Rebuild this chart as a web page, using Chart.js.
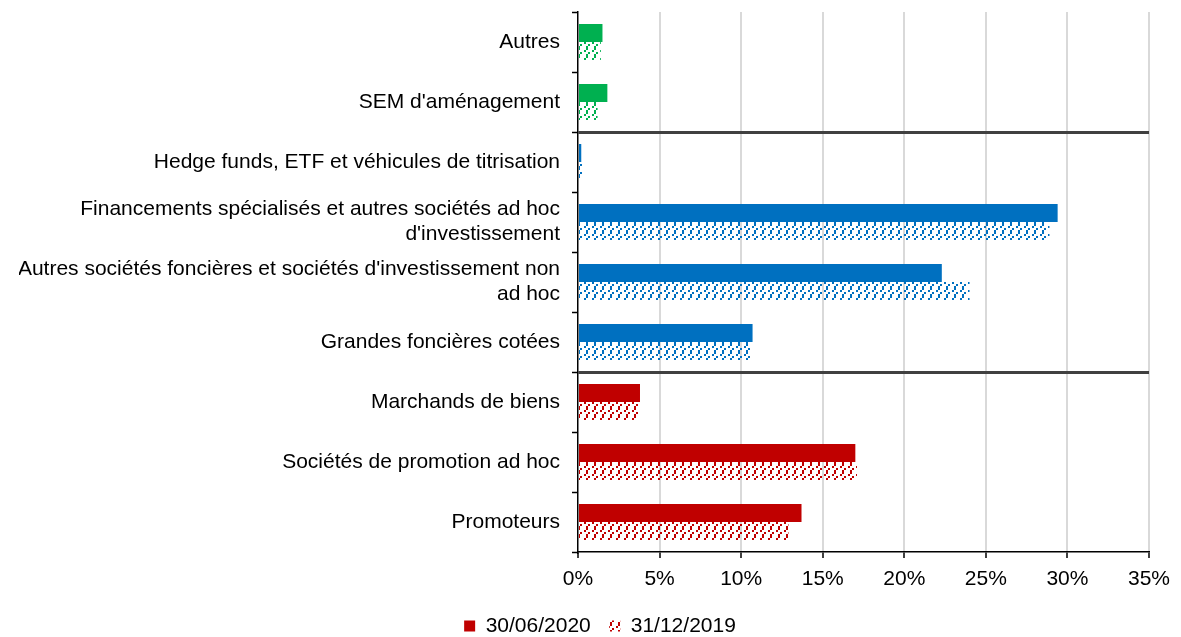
<!DOCTYPE html>
<html lang="fr">
<head>
<meta charset="utf-8">
<title>Répartition par type de contrepartie</title>
<script src="https://cdn.jsdelivr.net/npm/chart.js@4.4.1/dist/chart.umd.min.js"></script>
<style>
    html, body { margin: 0; padding: 0; background: #fff; }
    #zone { width: 1181px; height: 637px; }
</style>
</head>
<body>
<div id="zone"><canvas id="graphique"></canvas></div>
<script>
const categories = [
    'Autres',
    "SEM d'aménagement",
    'Hedge funds, ETF et véhicules de titrisation',
    ['Financements spécialisés et autres sociétés ad hoc', "d'investissement"],
    ["Autres sociétés foncières et sociétés d'investissement non", 'ad hoc'],
    'Grandes foncières cotées',
    'Marchands de biens',
    'Sociétés de promotion ad hoc',
    'Promoteurs'
];
const series = ['30/06/2020', '31/12/2019'];
const valeurs2020 = [1.5, 1.8, 0.2, 29.4, 22.3, 10.7, 3.8, 17.0, 13.7];
const valeurs2019 = [1.4, 1.2, 0.25, 28.9, 24.0, 10.6, 3.7, 17.1, 12.9];
const ticksX = [0, 5, 10, 15, 20, 25, 30, 35];
// indice de la premiere categorie de chaque nouveau groupe
const separations = [2, 6];

const VERT = '#00b050';
const BLEU = '#0070c0';
const ROUGE = '#c00000';
const couleurs = [VERT, VERT, BLEU, BLEU, BLEU, BLEU, ROUGE, ROUGE, ROUGE];

const POLICE = "'Liberation Sans', Arial, sans-serif";

// petits tirets en diagonale montante, decales d'une rangee a l'autre
function creerMotif(couleur) {
    const tuile = document.createElement('canvas');
    tuile.width = 8;
    tuile.height = 8;
    const c = tuile.getContext('2d');
    c.fillStyle = couleur;
    c.fillRect(0, 2, 2, 2);
    c.fillRect(2, 0, 2, 2);
    c.fillRect(2, 6, 2, 2);
    c.fillRect(4, 4, 2, 2);
    return c.createPattern(tuile, 'repeat');
}

const motifs = couleurs.map((couleur) => creerMotif(couleur));

const ctx = document.getElementById('graphique');

new Chart(ctx, {
    type: 'bar',
    data: {
        labels: categories,
        datasets: [
            {
                label: series[0],
                data: valeurs2020,
                backgroundColor: couleurs,
                borderWidth: 0,
                categoryPercentage: 0.6,
                barPercentage: 1
            },
            {
                label: series[1],
                data: valeurs2019,
                backgroundColor: motifs,
                borderWidth: 0,
                categoryPercentage: 0.6,
                barPercentage: 1
            }
        ]
    },
    options: {
        indexAxis: 'y',
        responsive: true,
        maintainAspectRatio: false,
        animation: false,
        layout: {
            padding: { top: 12, right: 0, left: 19, bottom: -9.5 }
        },
        plugins: {
            tooltip: { enabled: false },
            legend: {
                position: 'bottom',
                labels: {
                    boxWidth: 11,
                    boxHeight: 11,
                    padding: 18.5,
                    color: '#000',
                    font: { family: POLICE, size: 21 },
                    generateLabels: () => [
                        { text: series[0], fillStyle: ROUGE, strokeStyle: 'transparent', lineWidth: 0, datasetIndex: 0 },
                        { text: series[1], fillStyle: creerMotif(ROUGE), strokeStyle: 'transparent', lineWidth: 0, datasetIndex: 1 }
                    ]
                }
            }
        },
        scales: {
            x: {
                min: 0,
                max: 35,
                afterBuildTicks: (axe) => {
                    axe.ticks = ticksX.map((v) => ({ value: v }));
                },
                afterFit: (axe) => {
                    axe.height = 45;
                    axe.paddingRight = 32;
                },
                ticks: {
                    color: '#000',
                    padding: 9,
                    maxRotation: 0,
                    font: { family: POLICE, size: 21 },
                    callback: (v) => v + '%'
                },
                grid: {
                    color: (c) => (c.index === 0 ? 'transparent' : '#d9d9d9'),
                    lineWidth: 2,
                    tickColor: '#000',
                    tickWidth: 1.5,
                    tickLength: 6
                },
                border: { color: '#000', width: 1.5 }
            },
            y: {
                afterFit: (axe) => {
                    axe.width = 559;
                    axe.paddingTop = 0;
                    axe.paddingBottom = 0;
                },
                ticks: {
                    color: '#000',
                    padding: 12,
                    font: { family: POLICE, size: 21, lineHeight: 1.2 }
                },
                grid: {
                    offset: true,
                    color: (c) => (separations.includes(c.index) ? '#404040' : 'transparent'),
                    lineWidth: 3,
                    tickColor: '#000',
                    tickWidth: 1.5,
                    tickLength: 6
                },
                border: { color: '#000', width: 1.5 }
            }
        }
    }
});
</script>
</body>
</html>
